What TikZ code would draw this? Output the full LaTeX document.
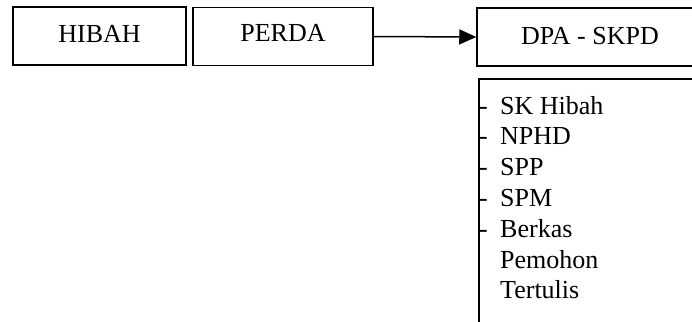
\documentclass[tikz,border=0pt]{standalone}
\usepackage{fontspec}
\setmainfont{Liberation Serif}
\usetikzlibrary{arrows.meta}
\begin{document}
\begin{tikzpicture}[x=1pt,y=-1pt,
  box/.style={draw,line width=1.5pt,rectangle,inner sep=0pt,text height=17.2pt,font=\fontsize{26}{30}\selectfont},
  item/.style={anchor=base west,inner sep=0pt,font=\fontsize{26}{30}\selectfont}]
\useasboundingbox (0,0) rectangle (692,321);
\clip (0,0) rectangle (692,321);
\node[box,minimum width=173pt,minimum height=58pt,text depth=3.8pt] (hibah) at (99.5,36) {HIBAH};
\node[box,minimum width=180pt,minimum height=58pt,text depth=6.8pt] (perda) at (283,36.5) {PERDA};
\node[box,minimum width=226pt,minimum height=58pt,text depth=2.6pt] (dpa) at (590,37) {DPA - SKPD};
\coordinate (lt) at (479,79);
\coordinate (lb) at (708,340);
\draw[line width=1.5pt] (lt) rectangle (lb);
\draw[line width=1.5pt,-{Triangle[length=17pt,width=15pt]}] (perda.east) -- (dpa.west);
\node[item] (d1) at (479,114) {-};
\node[item] (d2) at (479,144.5) {-};
\node[item] (d3) at (479,175.5) {-};
\node[item] (d4) at (479,206.5) {-};
\node[item] (d5) at (479,237.5) {-};
\node[item] (l1) at (500,114) {SK Hibah};
\node[item] (l2) at (500,144.5) {NPHD};
\node[item] (l3) at (500,175.5) {SPP};
\node[item] (l4) at (500,206.5) {SPM};
\node[item] (l5) at (500,237.5) {Berkas};
\node[item] (l6) at (500,268) {Pemohon};
\node[item] (l7) at (500,298.5) {Tertulis};
\end{tikzpicture}
\end{document}
